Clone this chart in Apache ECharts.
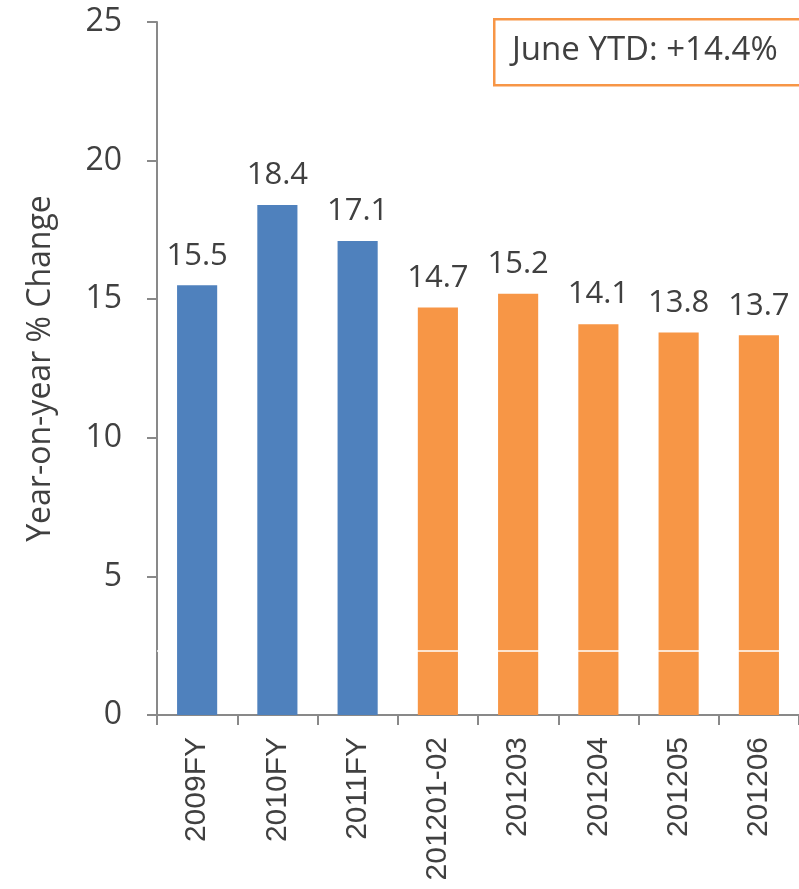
<!DOCTYPE html>
<html>
<head>
<meta charset="utf-8">
<script src="https://cdn.jsdelivr.net/npm/echarts@6/dist/echarts.min.js"></script>
<style>
  html, body { margin: 0; padding: 0; background: #fff; }
  #chart { width: 799px; height: 889px; }
</style>
</head>
<body>
<div id="chart"></div>
<script>
const categories = ['2009FY', '2010FY', '2011FY', '201201-02', '201203', '201204', '201205', '201206'];
const annualValues = [15.5, 18.4, 17.1, '-', '-', '-', '-', '-'];
const monthlyValues = ['-', '-', '-', 14.7, 15.2, 14.1, 13.8, 13.7];
const yTicks = [0, 5, 10, 15, 20, 25];
const ytdNote = 'June YTD: +14.4%';

let chart = echarts.init(document.getElementById('chart'));

let labelStyle = {
  show: true,
  position: 'top',
  distance: 14,
  fontSize: 31,
  color: '#404040',
  fontFamily: 'Open Sans',
};

let option = {
  animation: false,
  grid: {
    left: 157,
    top: 22,
    bottom: 174,
    width: 648,
  },
  xAxis: {
    type: 'category',
    data: categories,
    axisLine: { lineStyle: { color: '#898989', width: 2 } },
    axisTick: { show: true, length: 10, lineStyle: { color: '#898989', width: 2 } },
    axisLabel: {
      rotate: 90,
      fontSize: 30,
      color: '#404040',
      fontFamily: 'Liberation Sans',
      margin: 22,
      interval: 0,
    },
  },
  yAxis: {
    type: 'value',
    min: yTicks[0],
    max: yTicks[yTicks.length - 1],
    interval: 5,
    name: 'Year-on-year % Change',
    nameLocation: 'middle',
    nameGap: 100,
    nameTextStyle: { fontSize: 32, color: '#404040', fontFamily: 'Open Sans' },
    axisLine: { show: true, lineStyle: { color: '#898989', width: 2 } },
    axisTick: { show: true, length: 10, lineStyle: { color: '#898989', width: 2 } },
    axisLabel: { fontSize: 32, color: '#404040', fontFamily: 'Open Sans', margin: 35 },
    splitLine: { show: false },
  },
  series: [
    {
      type: 'bar',
      stack: 'all',
      data: annualValues,
      barWidth: '50%',
      z: 8,
      itemStyle: { color: '#4f81bd' },
      label: labelStyle,
    },
    {
      type: 'bar',
      stack: 'all',
      data: monthlyValues,
      barWidth: '50%',
      z: 2,
      itemStyle: { color: '#f79646' },
      label: labelStyle,
      markLine: {
        silent: true,
        symbol: 'none',
        label: { show: false },
        lineStyle: { color: '#ffffff', width: 1.5, type: 'solid' },
        data: [{ yAxis: 2.31 }],
      },
    },
  ],
  graphic: [
    {
      type: 'rect',
      left: 493,
      top: 18,
      shape: { width: 320, height: 66 },
      style: { fill: '#fff', stroke: '#f79646', lineWidth: 2.5 },
      z: 10,
    },
    {
      type: 'text',
      x: 512,
      y: 51,
      style: {
        text: ytdNote,
        fontSize: 33,
        fill: '#404040',
        fontFamily: 'Open Sans',
        verticalAlign: 'middle',
      },
      z: 11,
    },
  ],
};

chart.setOption(option);
</script>
</body>
</html>
